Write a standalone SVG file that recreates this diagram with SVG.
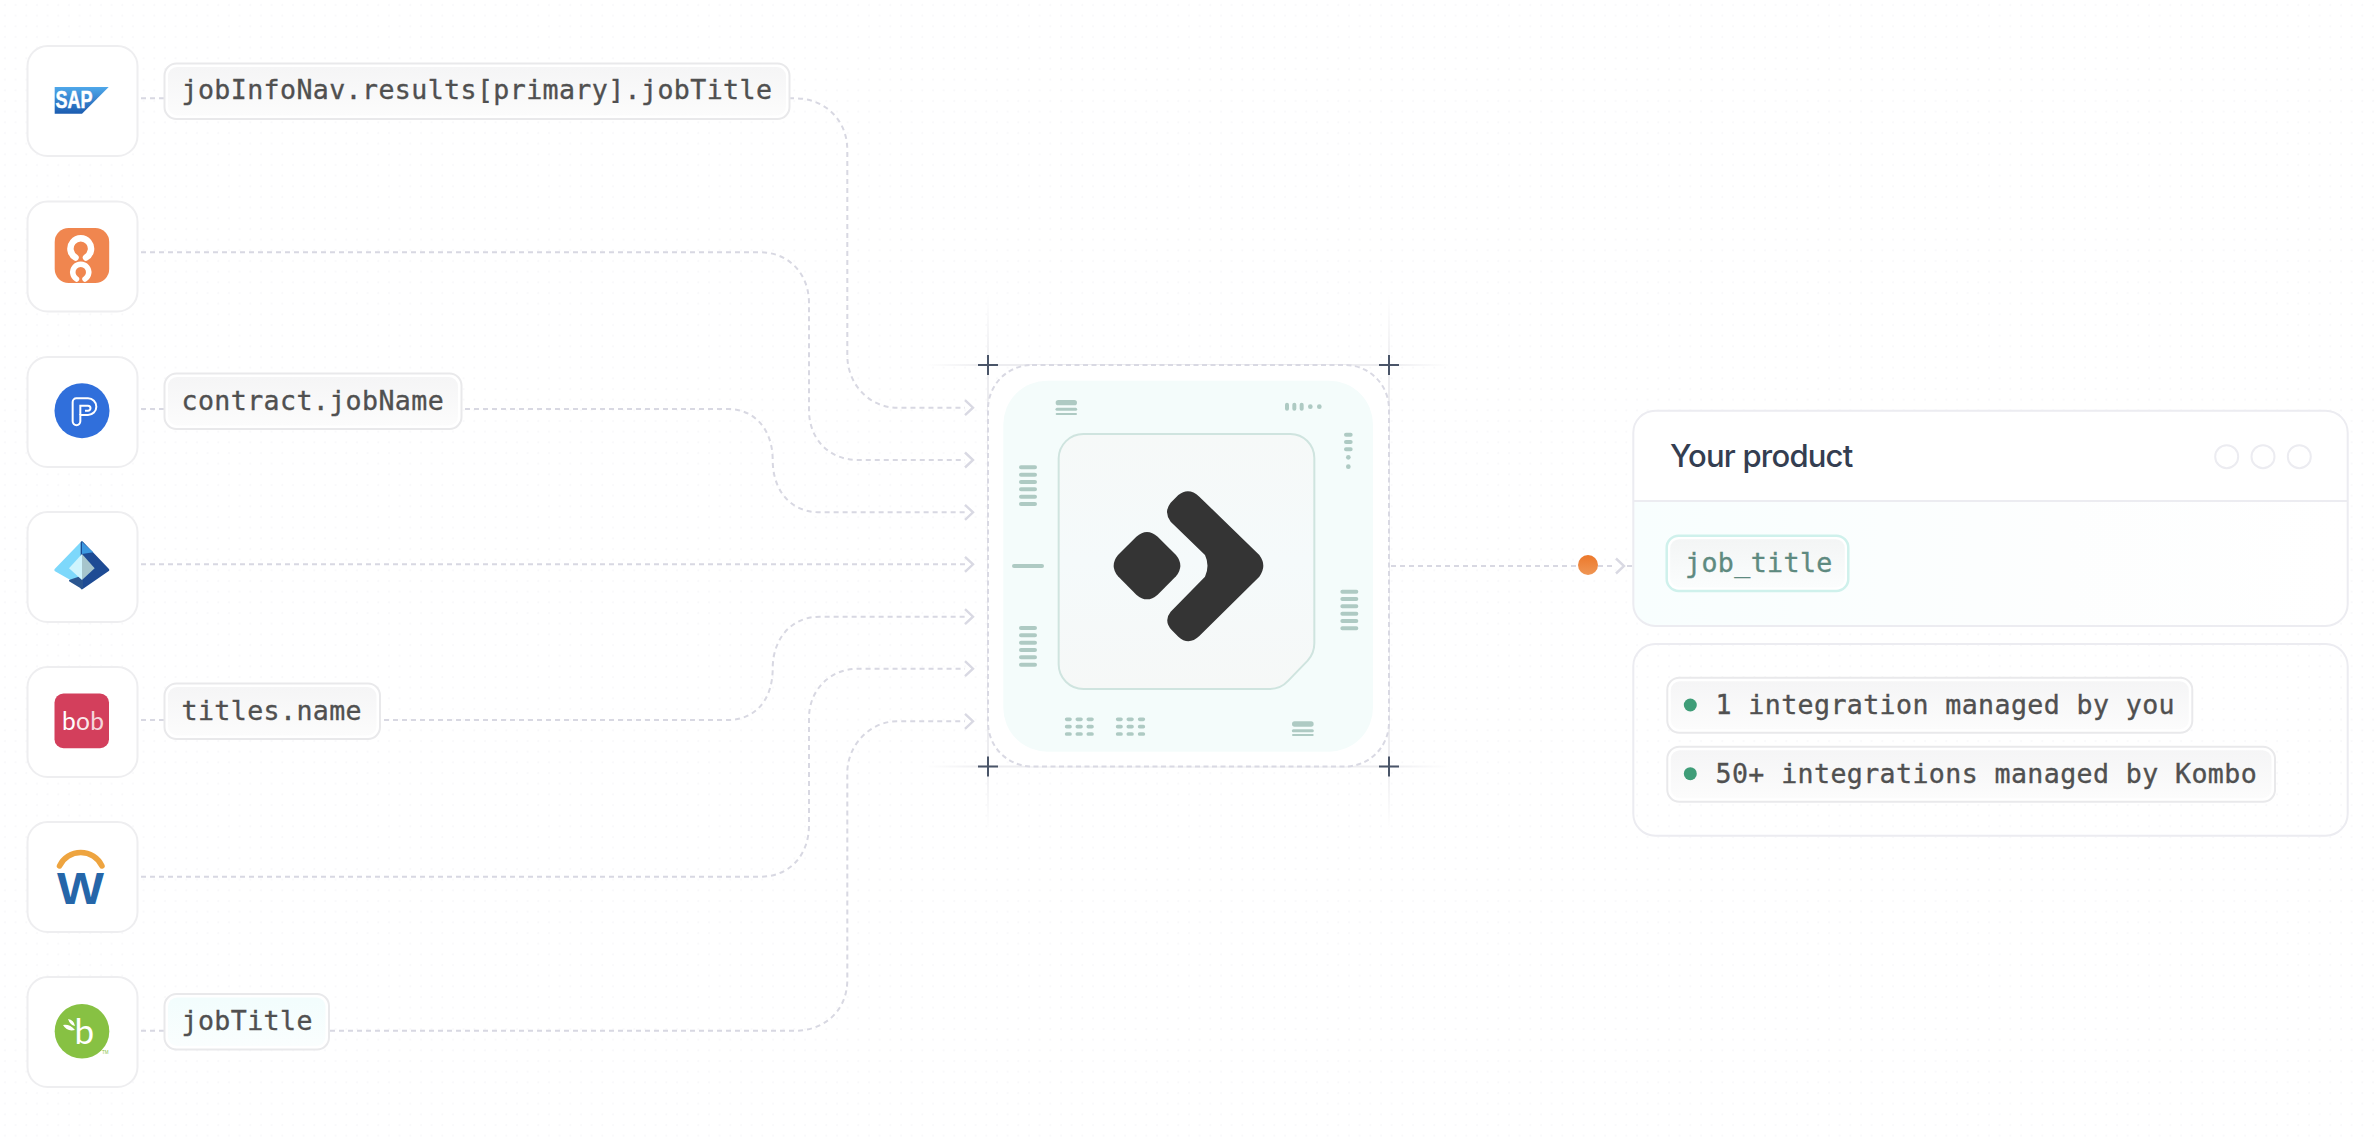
<svg xmlns="http://www.w3.org/2000/svg" width="2378" height="1140" viewBox="0 0 2378 1140">
<style>
.card{fill:#fff;stroke:#eeeef0;stroke-width:2}
.chip{fill:#fff;stroke:#e9e9eb;stroke-width:2}
.mono{font-family:"DejaVu Sans Mono","Liberation Mono",monospace;font-size:26.6px;letter-spacing:.4px;fill:#505050;stroke:#505050;stroke-width:.35px}
.conn{fill:none;stroke:#d8d8e2;stroke-width:2;stroke-dasharray:5 4}
.m{stroke:#aecac3;stroke-width:12;stroke-linecap:round;fill:none}
.plus{stroke:#4a5568;stroke-width:2;fill:none}
.win{fill:none;stroke:#ececf1;stroke-width:2}
</style>
<defs>
<pattern id="dots" width="10.667" height="10.667" patternUnits="userSpaceOnUse"><circle cx="5" cy="5" r="1" fill="#f8f8fa"/></pattern>
<marker id="arr" markerUnits="userSpaceOnUse" markerWidth="14" markerHeight="20" refX="1" refY="10" orient="auto"><path d="M1 2.500L9 10L1 17.500" fill="none" stroke="#d9d9e3" stroke-width="2.400"/></marker>
<linearGradient id="chipG" x1="0" y1="0" x2="0" y2="1"><stop offset="0" stop-color="#f5f5f6"/><stop offset="1" stop-color="#fcfcfc"/></linearGradient>
<linearGradient id="chipT" x1="0" y1="0" x2="0" y2="1"><stop offset="0" stop-color="#f2fdfd"/><stop offset="1" stop-color="#fafefe"/></linearGradient>
<linearGradient id="chipJ" x1="0" y1="0" x2="0" y2="1"><stop offset="0" stop-color="#f3f5f5"/><stop offset="1" stop-color="#fbfdfd"/></linearGradient>
<linearGradient id="sap" x1="0" y1="0" x2="0" y2="1"><stop offset="0" stop-color="#4fa8ea"/><stop offset="1" stop-color="#1b5cb0"/></linearGradient>
<linearGradient id="org" x1="0" y1="0" x2="0" y2="1"><stop offset="0" stop-color="#ec782b"/><stop offset="1" stop-color="#ef9655"/></linearGradient>
<linearGradient id="prod" x1="0" y1="0" x2="1" y2="0"><stop offset="0" stop-color="#f8fefe"/><stop offset=".6" stop-color="#fdfefe"/><stop offset="1" stop-color="#fff"/></linearGradient>
<linearGradient id="core" x1="0" y1="0" x2="0" y2="1"><stop offset="0" stop-color="#f6f9f8"/><stop offset=".5" stop-color="#f5fafb"/><stop offset="1" stop-color="#f6f8f7"/></linearGradient>
<linearGradient id="gh" gradientUnits="userSpaceOnUse" x1="925" y1="0" x2="1450" y2="0"><stop offset="0" stop-color="#ededf0" stop-opacity="0"/><stop offset=".12" stop-color="#ededf0"/><stop offset=".88" stop-color="#ededf0"/><stop offset="1" stop-color="#ededf0" stop-opacity="0"/></linearGradient>
<linearGradient id="gv" gradientUnits="userSpaceOnUse" x1="0" y1="295" x2="0" y2="830"><stop offset="0" stop-color="#ededf0" stop-opacity="0"/><stop offset=".13" stop-color="#ededf0"/><stop offset=".87" stop-color="#ededf0"/><stop offset="1" stop-color="#ededf0" stop-opacity="0"/></linearGradient>
</defs>
<rect width="2378" height="1140" fill="#fff"/>
<rect width="2378" height="1140" fill="url(#dots)"/>

<g id="connectors">
<path class="conn" marker-end="url(#arr)" d="M141 98.300H795C825 98.300 847.300 120 847.300 150V355C847.300 385 870 407.700 897 407.700H965"/>
<path class="conn" marker-end="url(#arr)" d="M141 252.300H760C790 252.300 809 275 809 303V410C809 440 830 460 858 460H965"/>
<path class="conn" marker-end="url(#arr)" d="M141 409H728C755 409 772.700 430 772.700 460C772.700 490 790 512.300 820 512.300H965"/>
<path class="conn" marker-end="url(#arr)" d="M141 564.300H965"/>
<path class="conn" marker-end="url(#arr)" d="M141 720H728C755 720 772.700 700 772.700 668.500C772.700 640 790 616.700 820 616.700H965"/>
<path class="conn" marker-end="url(#arr)" d="M141 876.700H760C790 876.700 809 855 809 825V718C809 690 830 668.700 858 668.700H965"/>
<path class="conn" marker-end="url(#arr)" d="M141 1030.700H795C825 1030.700 847.300 1010 847.300 980V773C847.300 745 870 721.300 897 721.300H965"/>
<path class="conn" marker-end="url(#arr)" d="M1391 566H1616"/>
<path class="conn" d="M1627 566H1632"/>
</g>

<g id="node-sap">
<rect class="card" x="27.500" y="46" width="110" height="110" rx="20"/>
<path d="M54.700 87H108.700L82 113.700H54.700Z" fill="url(#sap)"/>
<text x="55.500" y="107.500" font-family="Liberation Sans,sans-serif" font-weight="700" font-size="23.500" fill="#fff" stroke="#fff" stroke-width=".5" textLength="37" lengthAdjust="spacingAndGlyphs">SAP</text>
</g>
<g id="node-orange">
<rect class="card" x="27.500" y="201.500" width="110" height="110" rx="20"/>
<rect x="54.700" y="228" width="54.500" height="55" rx="14" fill="#f0864f"/>
<path d="M86 257.500A10.300 10.300 0 1 0 75.500 257.500" fill="none" stroke="#fff" stroke-width="6.500" stroke-linecap="round"/>
<path d="M76.500 279A8 8 0 1 1 85 279" fill="none" stroke="#fff" stroke-width="5.500" stroke-linecap="round"/>
</g>
<g id="node-p">
<rect class="card" x="27.500" y="357" width="110" height="110" rx="20"/>
<circle cx="82" cy="410.700" r="27.500" fill="#306fdb"/>
<g transform="translate(20 350) scale(.3333)" fill="none" stroke="#fff" stroke-width="6">
<path d="M169 145H204A25 25 0 0 1 204 195H181V214A11.500 11.500 0 0 1 158 214V156A11 11 0 0 1 169 145Z"/>
<path d="M181 195V167H204A7.500 7.500 0 0 1 204 182H195"/>
</g>
</g>
<g id="node-azure">
<rect class="card" x="27.500" y="512" width="110" height="110" rx="20"/>
<g transform="translate(20 350) scale(.3333)" stroke-linejoin="round">
<path d="M186 578L107 660L160 690L186 695Z" fill="#7dd8fb" stroke="#7dd8fb" stroke-width="8"/>
<path d="M186 578L264 660L186 714Z" fill="#1e4b94" stroke="#1e4b94" stroke-width="8"/>
<path d="M186 576L220 607L186 612Z" fill="#3b98e0"/>
<path d="M150 692L186 714V680Z" fill="#2b5690" stroke="#2b5690" stroke-width="6"/>
<path d="M186 612L147 655L186 690Z" fill="#cff4fd"/>
<path d="M186 612L224 655L186 690Z" fill="#a6c5cc"/>
</g>
</g>
<g id="node-bob">
<rect class="card" x="27.500" y="667" width="110" height="110" rx="20"/>
<rect x="54.500" y="693.500" width="54.500" height="54.700" rx="9" fill="#d33f5c"/>
<text x="62" y="729.500" font-family="Lato,sans-serif" font-size="24.500" font-weight="400" fill="#fff" letter-spacing=".3"><tspan>b</tspan><tspan fill-opacity=".9">o</tspan><tspan fill-opacity=".8">b</tspan></text>
</g>
<g id="node-workday">
<rect class="card" x="27.500" y="822" width="110" height="110" rx="20"/>
<path d="M59.500 866A23.500 23.500 0 0 1 102 866" fill="none" stroke="#eea43f" stroke-width="5.500" stroke-linecap="round"/>
<text x="57" y="903.500" font-family="Liberation Sans,sans-serif" font-weight="700" font-size="45" fill="#2566a9" textLength="47" lengthAdjust="spacingAndGlyphs">W</text>
</g>
<g id="node-bamboo">
<rect class="card" x="27.500" y="977" width="110" height="110" rx="20"/>
<circle cx="82" cy="1031.300" r="27.300" fill="#87c143"/>
<text x="74.500" y="1043.500" font-family="Lato,sans-serif" font-size="35" font-weight="400" fill="#fff">b</text>
<path d="M63 1025Q70 1024 75 1030Q67 1032 63 1025ZM68 1019Q74 1020 75 1026Q70 1025 68 1019Z" fill="#fff"/>
<text x="102" y="1054" font-family="Liberation Sans,sans-serif" font-size="4.500" fill="#87c143">TM</text>
</g>

<g id="label-1">
<rect class="chip" x="164.500" y="63.500" width="625" height="55.500" rx="12"/>
<rect x="168" y="67" width="618" height="48.500" rx="9" fill="url(#chipG)"/>
<text class="mono" x="181.500" y="99.300">jobInfoNav.results[primary].jobTitle</text>
</g>
<g id="label-3">
<rect class="chip" x="164.500" y="373.500" width="297" height="55.500" rx="12"/>
<rect x="168" y="377" width="290" height="48.500" rx="9" fill="url(#chipG)"/>
<text class="mono" x="181.500" y="409.800">contract.jobName</text>
</g>
<g id="label-5">
<rect class="chip" x="164.500" y="683.500" width="215.500" height="55.500" rx="12"/>
<rect x="168" y="687" width="208.500" height="48.500" rx="9" fill="url(#chipG)"/>
<text class="mono" x="181.500" y="720">titles.name</text>
</g>
<g id="label-7">
<rect class="chip" x="164.500" y="994" width="164.500" height="55.500" rx="12"/>
<rect x="168" y="997.500" width="157.500" height="48.500" rx="9" fill="url(#chipT)"/>
<text class="mono" x="181.500" y="1030">jobTitle</text>
</g>

<g id="hub">
<path d="M925 365H1450M925 766.500H1450" stroke="url(#gh)" stroke-width="2" fill="none"/>
<path d="M988 295V830M1389 295V830" stroke="url(#gv)" stroke-width="2" fill="none"/>
<rect x="988" y="365" width="401" height="401.500" rx="44" fill="#fff" stroke="#d9d9e3" stroke-width="2" stroke-dasharray="5 3.500"/>
<rect x="1003.300" y="380.700" width="369.700" height="371" rx="44" fill="#f4fcfb"/>
<g transform="translate(920 320) scale(.33333)">
<path d="M490 342H1110A72 72 0 0 1 1183 415V970Q1183 1000 1163 1022L1105 1082Q1082 1107 1050 1107H490A74 74 0 0 1 416 1033V415A74 74 0 0 1 490 342Z" fill="url(#core)" stroke="#cfe4df" stroke-width="6"/>
<path d="M775 525Q806 500 838 530L1018 705Q1030 722 1030 737Q1030 752 1018 770L838 948Q806 978 775 950L755 930Q730 902 752 875L855 770Q870 737 855 705L752 605Q730 576 752 548Z" fill="#343434"/>
<path d="M649 650Q681 622 713 650L768 705Q794 737 768 769L713 824Q681 852 649 824L594 769Q568 737 594 705Z" fill="#343434"/>
<path class="m" style="stroke-width:16" d="M415 248H463"/><path class="m" style="stroke-width:9" d="M411 268H467"/><path class="m" style="stroke-width:6" d="M410 282H468"/>
<path class="m" d="M1101 254V266M1123 254V266M1145 254V266"/>
<circle cx="1171" cy="260" r="7" fill="#aecac3"/><circle cx="1198" cy="260" r="7" fill="#aecac3"/>
<path class="m" d="M1278 344H1292M1278 366H1292M1278 388H1292"/>
<circle cx="1285" cy="412" r="7" fill="#aecac3"/><circle cx="1285" cy="440" r="7" fill="#aecac3"/>
<path class="m" d="M303 442H345M303 464H345M303 486H345M303 508H345M303 530H345M303 552H345"/>
<path class="m" d="M282 738H366"/>
<path class="m" d="M303 924H345M303 946H345M303 968H345M303 990H345M303 1012H345M303 1034H345"/>
<path class="m" d="M1267 815H1309M1267 837H1309M1267 859H1309M1267 881H1309M1267 903H1309M1267 925H1309"/>
<path class="m" style="stroke-width:11" d="M440 1198H450M472 1198H483M505 1198H516M440 1220H450M472 1220H483M505 1220H516M440 1242H450M472 1242H483M505 1242H516M593 1198H603M625 1198H636M659 1198H670M593 1220H603M625 1220H636M659 1220H670M593 1242H603M625 1242H636M659 1242H670"/>
<path class="m" style="stroke-width:16" d="M1124 1212H1173"/><path class="m" style="stroke-width:9" d="M1120 1232H1177"/><path class="m" style="stroke-width:6" d="M1119 1245H1178"/>
</g>
<path class="plus" d="M978 365H998M988 355V375M1379 365H1399M1389 355V375M978 766.500H998M988 756.500V776.500M1379 766.500H1399M1389 756.500V776.500"/>
</g>

<circle id="dot" cx="1588" cy="565" r="10" fill="url(#org)"/>

<g id="your-product">
<path d="M1633.300 501H2347.700V604A22 22 0 0 1 2325.700 626H1655.300A22 22 0 0 1 1633.300 604Z" fill="url(#prod)"/>
<path d="M1655.300 410.700H2325.700A22 22 0 0 1 2347.700 432.700V501H1633.300V432.700A22 22 0 0 1 1655.300 410.700Z" fill="#fff"/>
<rect class="win" x="1633.300" y="410.700" width="714.400" height="215.300" rx="22"/>
<path class="win" d="M1633.300 501H2347.700"/>
<text x="1670" y="466.500" font-family="Inter,sans-serif" font-size="31" font-weight="500" letter-spacing="-.8" fill="#343e51">Your product</text>
<circle class="win" cx="2226.700" cy="456.700" r="11.500"/>
<circle class="win" cx="2263" cy="456.700" r="11.500"/>
<circle class="win" cx="2299.300" cy="456.700" r="11.500"/>
<rect x="1666.700" y="535.700" width="181.600" height="55.300" rx="12" fill="#fff" stroke="#cff1ec" stroke-width="2.500"/>
<rect x="1670.200" y="539.200" width="174.600" height="48.300" rx="9" fill="url(#chipJ)"/>
<text class="mono" x="1685" y="571.700" style="fill:#5e8a80;stroke:#5e8a80">job_title</text>
</g>
<g id="managed">
<rect class="win" x="1633.300" y="644" width="714.400" height="191.700" rx="22" fill="#fff"/>
<rect class="chip" x="1667.300" y="677.700" width="525" height="55" rx="12"/>
<rect x="1670.800" y="681.200" width="518" height="48" rx="9" fill="url(#chipG)"/>
<circle cx="1690.300" cy="705" r="6.500" fill="#3f9d78"/>
<text class="mono" x="1715.500" y="714">1 integration managed by you</text>
<rect class="chip" x="1667.300" y="746.700" width="607.700" height="55" rx="12"/>
<rect x="1670.800" y="750.200" width="600.700" height="48" rx="9" fill="url(#chipG)"/>
<circle cx="1690.300" cy="773.700" r="6.500" fill="#3f9d78"/>
<text class="mono" x="1715.500" y="782.700">50+ integrations managed by Kombo</text>
</g>
</svg>
